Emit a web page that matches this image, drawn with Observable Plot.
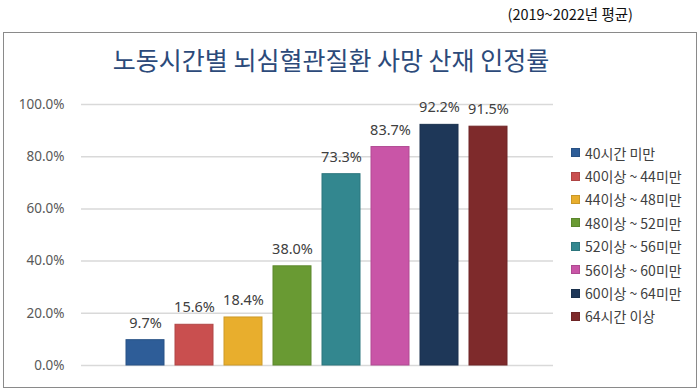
<!DOCTYPE html>
<html>
<head>
<meta charset="utf-8">
<script src="https://cdn.jsdelivr.net/npm/d3@7"></script>
<script src="https://cdn.jsdelivr.net/npm/@observablehq/plot@0.6"></script>
<style>
  html, body { margin: 0; padding: 0; background: #fff; }
  #wrap { position: relative; width: 700px; height: 390px; overflow: hidden; font-family: "Noto Sans CJK KR", "Noto Sans", sans-serif; }
  #frame { position: absolute; left: 3px; top: 32px; width: 692px; height: 354px; border: 1.5px solid #8a8a8a; }
  #subtitle { position: absolute; right: 67px; top: 3px; font-size: 14.5px; color: #111; white-space: nowrap; }
  #title { position: absolute; left: 0; width: 662px; text-align: center; top: 41px; font-size: 25px; color: #2C4A7A; white-space: nowrap; }
  #chart { position: absolute; left: 0; top: 0; }
  #legend { position: absolute; left: 571px; top: 141px; font-size: 14px; color: #404040; }
  .item { height: 23.4px; line-height: 22px; white-space: nowrap; display: flex; align-items: center; }
  .sw { width: 9px; height: 9px; margin-right: 5px; display: inline-block; box-sizing: border-box; }
</style>
</head>
<body>
<div id="wrap">
  <div id="frame"></div>
  <div id="subtitle">(2019~2022년 평균)</div>
  <div id="title">노동시간별 뇌심혈관질환 사망 산재 인정률</div>
  <div id="chart"></div>
  <div id="legend"></div>
</div>
<script>
const categories = ["40시간 미만", "40이상 ~ 44미만", "44이상 ~ 48미만", "48이상 ~ 52미만", "52이상 ~ 56미만", "56이상 ~ 60미만", "60이상 ~ 64미만", "64시간 이상"];
const values = [9.7, 15.6, 18.4, 38.0, 73.3, 83.7, 92.2, 91.5];
const colors = ["#2E5D98", "#C94F4F", "#E8AE2D", "#699A33", "#33878F", "#C955A7", "#1E3758", "#7E2A2B"];
const yTicks = [0, 20, 40, 60, 80, 100];

const data = categories.map((c, i) => ({category: c, value: values[i]}));
const fmt = v => v.toFixed(1) + "%";

const chart = Plot.plot({
  width: 700,
  height: 390,
  marginTop: 104,
  marginBottom: 25,
  marginLeft: 81,
  marginRight: 147,
  style: {background: "transparent", fontFamily: "'Noto Sans', sans-serif"},
  x: {domain: categories, paddingInner: 0.215, paddingOuter: 0.86, axis: null},
  y: {domain: [0, 100], ticks: yTicks, label: null},
  color: {domain: categories, range: colors},
  marks: [
    Plot.gridY(yTicks, {stroke: "#d9d9d9", strokeOpacity: 1, strokeWidth: 1.5}),
    Plot.axisY(yTicks, {tickSize: 0, tickPadding: 17, tickFormat: fmt, fontSize: 13.5, fill: "#595959", label: null}),
    Plot.barY(data, {x: "category", y: "value", fill: "category", stroke: d => d3.color(colors[categories.indexOf(d.category)]).darker(0.35).formatHex(), strokeWidth: 1}),
    Plot.text(data, {x: "category", y: "value", text: d => fmt(d.value), dy: -17, fontSize: 14.5, fill: "#404040"})
  ]
});
document.getElementById("chart").appendChild(chart);

const legend = document.getElementById("legend");
categories.forEach((c, i) => {
  const item = document.createElement("div");
  item.className = "item";
  const sw = document.createElement("span");
  sw.className = "sw";
  sw.style.background = colors[i];
  sw.style.border = "1px solid " + d3.color(colors[i]).darker(0.4).formatHex();
  const t = document.createElement("span");
  t.textContent = c;
  item.appendChild(sw);
  item.appendChild(t);
  legend.appendChild(item);
});
</script>
</body>
</html>
